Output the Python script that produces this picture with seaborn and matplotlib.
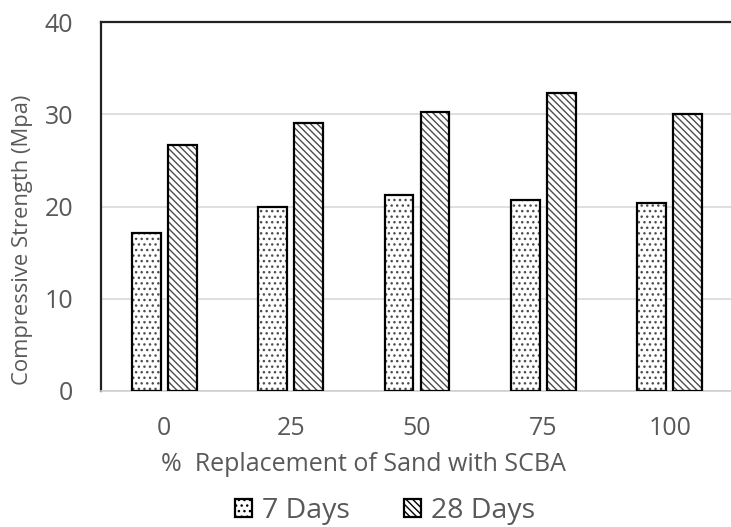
import matplotlib
matplotlib.use("Agg")
import matplotlib.pyplot as plt
from matplotlib.patches import Patch
import seaborn as sns
import pandas as pd

# Compressive strength of concrete with sugarcane bagasse ash (SCBA) replacing sand
replacement = ["0", "25", "50", "75", "100"]
days_7 = [17.1, 20.0, 21.3, 20.7, 20.4]
days_28 = [26.7, 29.1, 30.2, 32.3, 30.0]
series_names = ["7 Days", "28 Days"]

df = pd.DataFrame({
    "Replacement": replacement * 2,
    "Strength": days_7 + days_28,
    "Age": [series_names[0]] * len(replacement) + [series_names[1]] * len(replacement),
})

sns.set_theme(style="white")
plt.rcParams["font.family"] = ["Open Sans", "DejaVu Sans"]
plt.rcParams["hatch.linewidth"] = 1.0
text_color = "#595959"
hatch_color = "#4d4d4d"

fig = plt.figure(figsize=(7.31, 5.27), dpi=100)
ax = fig.add_axes([101 / 731, 1 - 391 / 527, 632 / 731, (391 - 22) / 527])

sns.barplot(data=df, x="Replacement", y="Strength", hue="Age", order=replacement,
            hue_order=series_names, palette=["white", "white"], width=0.57, gap=0.2,
            edgecolor="black", linewidth=1.6, ax=ax, legend=False, zorder=3)

hatches = ["...", "\\\\\\\\\\"]
for i, container in enumerate(ax.containers):
    for bar in container:
        bar.set_hatch(hatches[i])
        bar._hatch_color = matplotlib.colors.to_rgba(hatch_color)

ax.set_ylim(0, 40)
ax.set_xlim(-0.5, 4.5)
ax.set_yticks([0, 10, 20, 30, 40])
ax.yaxis.grid(True, color="#d9d9d9", linewidth=1.2, zorder=0)
ax.set_axisbelow(True)

for side in ["left", "top"]:
    ax.spines[side].set_color("#222222")
    ax.spines[side].set_linewidth(1.6)
ax.spines["bottom"].set_color("#d0d0d0")
ax.spines["bottom"].set_linewidth(1.2)
ax.spines["right"].set_visible(False)

ax.tick_params(axis="y", length=0, pad=20, labelsize=18, labelcolor=text_color)
ax.tick_params(axis="x", length=0, pad=18, labelsize=18, labelcolor=text_color)

ax.set_xlabel("%  Replacement of Sand with SCBA", fontsize=18, color=text_color)
ax.xaxis.set_label_coords(0.415, -0.165)
ax.set_ylabel("Compressive Strength (Mpa)", fontsize=15.8, color=text_color)
ax.yaxis.set_label_coords(-0.107, 0.41)

# Legend with hatched square keys
handles = [Patch(facecolor="white", edgecolor="black", hatch=hatches[i], linewidth=1.6,
                 label=series_names[i]) for i in range(2)]
leg = fig.legend(handles=handles, loc="center", bbox_to_anchor=(385 / 731, 1 - 511 / 527),
                 ncol=2, frameon=False, fontsize=20.5, handlelength=0.6, handleheight=0.6,
                 handletextpad=0.35, columnspacing=1.9, borderpad=0)
for t in leg.get_texts():
    t.set_color(text_color)

fig.savefig("out.png", dpi=100)
